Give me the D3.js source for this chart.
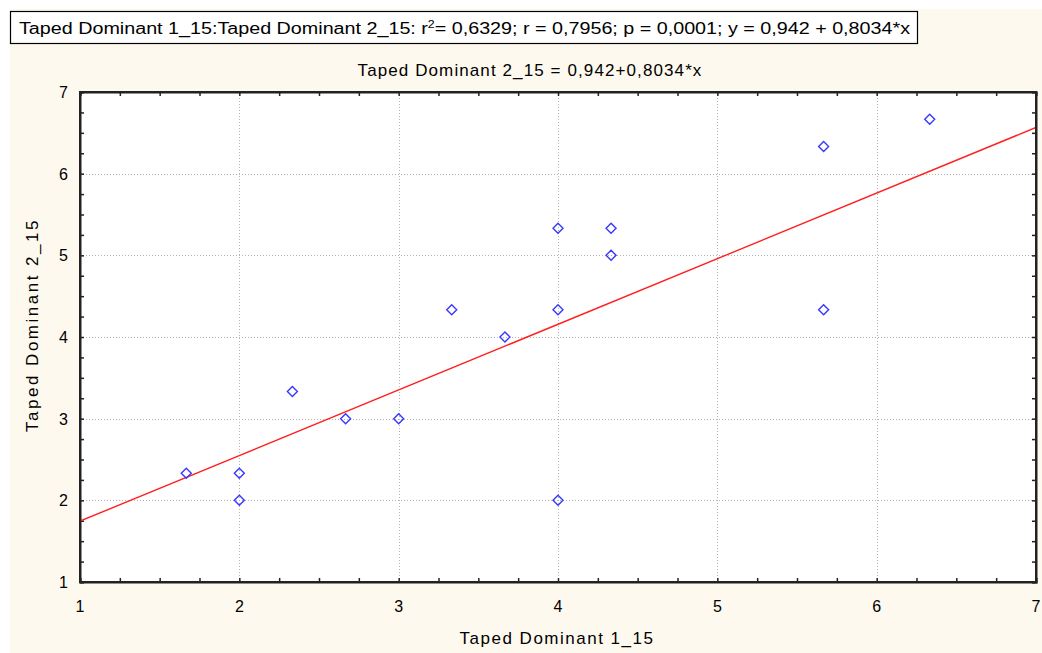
<!DOCTYPE html>
<html>
<head>
<meta charset="utf-8">
<script src="https://cdn.jsdelivr.net/npm/d3@7"></script>
<style>
  body { margin: 0; background: #ffffff; }
  svg { display: block; font-family: "Liberation Sans", Arial, sans-serif; }
</style>
</head>
<body>
<svg id="chart" width="1042" height="653"></svg>
<script>
// data
var xValues = [1.667, 2, 2, 2.333, 2.667, 3, 3.333, 3.667, 4, 4, 4, 4.333, 4.333, 5.667, 5.667, 6.333];
var yValues = [2.333, 2.333, 2, 3.333, 3, 3, 4.333, 4, 5.333, 4.333, 2, 5.333, 5, 6.333, 4.333, 6.667];
var xTicks = [1, 2, 3, 4, 5, 6, 7];
var yTicks = [1, 2, 3, 4, 5, 6, 7];
var fitIntercept = 0.942, fitSlope = 0.8034;

var titleText = "Taped Dominant 2_15 = 0,942+0,8034*x";
var xLabel = "Taped Dominant 1_15";
var yLabel = "Taped Dominant 2_15";

var svg = d3.select("#chart"),
    W = 1042, H = 653;

var m = { left: 80, right: 1036, top: 92, bottom: 582 };

var x = d3.scaleLinear().domain([1, 7]).range([m.left, m.right]);
var y = d3.scaleLinear().domain([1, 7]).range([m.bottom, m.top]);

// background
svg.append("rect").attr("x", 10).attr("y", 9).attr("width", W - 10).attr("height", H - 9).attr("fill", "#fef9ee");
svg.append("rect").attr("x", m.left).attr("y", m.top).attr("width", m.right - m.left).attr("height", m.bottom - m.top).attr("fill", "#ffffff");

// header box
svg.append("rect").attr("x", 10.5).attr("y", 11.5).attr("width", 907).attr("height", 32)
  .attr("fill", "#ffffff").attr("stroke", "#000").attr("stroke-width", 1.2);
var ht = svg.append("text").attr("x", 19).attr("y", 34).attr("font-size", 16).attr("fill", "#000")
  .attr("textLength", 891).attr("lengthAdjust", "spacingAndGlyphs");
ht.append("tspan").text("Taped Dominant 1_15:Taped Dominant 2_15:  r");
ht.append("tspan").attr("dy", -6).attr("font-size", 10).text("2");
ht.append("tspan").attr("dy", 6).text("= 0,6329;  r = 0,7956; p = 0,0001;  y = 0,942 + 0,8034*x");

// title
svg.append("text").attr("x", 530).attr("y", 76).attr("text-anchor", "middle").attr("font-size", 17)
  .attr("letter-spacing", 1.1).text(titleText);

// grid
var grid = svg.append("g").attr("stroke", "#b4b4b4").attr("stroke-dasharray", "1,2").attr("stroke-width", 1);
xTicks.slice(1, -1).forEach(function(t) {
  grid.append("line").attr("x1", Math.round(x(t)) + 0.5).attr("x2", Math.round(x(t)) + 0.5).attr("y1", m.top).attr("y2", m.bottom);
});
yTicks.slice(1, -1).forEach(function(t) {
  grid.append("line").attr("y1", Math.round(y(t)) + 0.5).attr("y2", Math.round(y(t)) + 0.5).attr("x1", m.left).attr("x2", m.right);
});

// axes with inward ticks
var minorX = d3.range(1, 7.001, 0.25), minorY = d3.range(1, 7.001, 0.25);
var axB = d3.axisBottom(x).tickValues(minorX).tickSize(-4).tickFormat("");
var axT = d3.axisTop(x).tickValues(minorX).tickSize(-4).tickFormat("");
var axL = d3.axisLeft(y).tickValues(minorY).tickSize(-4).tickFormat("");
var axR = d3.axisRight(y).tickValues(minorY).tickSize(-4).tickFormat("");
[[axB, "translate(0," + m.bottom + ")"], [axT, "translate(0," + m.top + ")"],
 [axL, "translate(" + m.left + ",0)"], [axR, "translate(" + m.right + ",0)"]].forEach(function(a) {
  var g = svg.append("g").attr("transform", a[1]).call(a[0]);
  g.select(".domain").attr("stroke", "#222").attr("stroke-width", 2);
  g.selectAll(".tick line").attr("stroke", "#222").attr("stroke-width", 1.5);
});

// tick labels
svg.append("g").selectAll("text").data(xTicks).join("text")
  .attr("x", function(d) { return x(d); }).attr("y", 612).attr("text-anchor", "middle")
  .attr("font-size", 16).text(function(d) { return d; });
svg.append("g").selectAll("text").data(yTicks).join("text")
  .attr("x", 68).attr("y", function(d) { return y(d) + 6; }).attr("text-anchor", "end")
  .attr("font-size", 16).text(function(d) { return d; });

// axis labels
svg.append("text").attr("x", 557).attr("y", 644).attr("text-anchor", "middle").attr("font-size", 17)
  .attr("letter-spacing", 1.5).text(xLabel);
svg.append("text").attr("transform", "translate(38,325) rotate(-90)").attr("text-anchor", "middle")
  .attr("font-size", 17).attr("letter-spacing", 2.5).text(yLabel);

// clip for the fit line
svg.append("clipPath").attr("id", "plotclip").append("rect")
  .attr("x", m.left).attr("y", m.top).attr("width", m.right - m.left).attr("height", m.bottom - m.top);

svg.append("line").attr("clip-path", "url(#plotclip)")
  .attr("x1", x(1)).attr("y1", y(fitIntercept + fitSlope * 1))
  .attr("x2", x(7)).attr("y2", y(fitIntercept + fitSlope * 7))
  .attr("stroke", "#ff2020").attr("stroke-width", 1.4);

// points as diamonds
svg.append("g").selectAll("path").data(d3.zip(xValues, yValues)).join("path")
  .attr("transform", function(d) { return "translate(" + x(d[0]) + "," + y(d[1]) + ")"; })
  .attr("d", "M0,-5L5,0L0,5L-5,0Z")
  .attr("fill", "none").attr("stroke", "#3838ff").attr("stroke-width", 1.4);

// frame
svg.append("rect").attr("x", m.left).attr("y", m.top).attr("width", m.right - m.left).attr("height", m.bottom - m.top)
  .attr("fill", "none").attr("stroke", "#222").attr("stroke-width", 2);
</script>
</body>
</html>
